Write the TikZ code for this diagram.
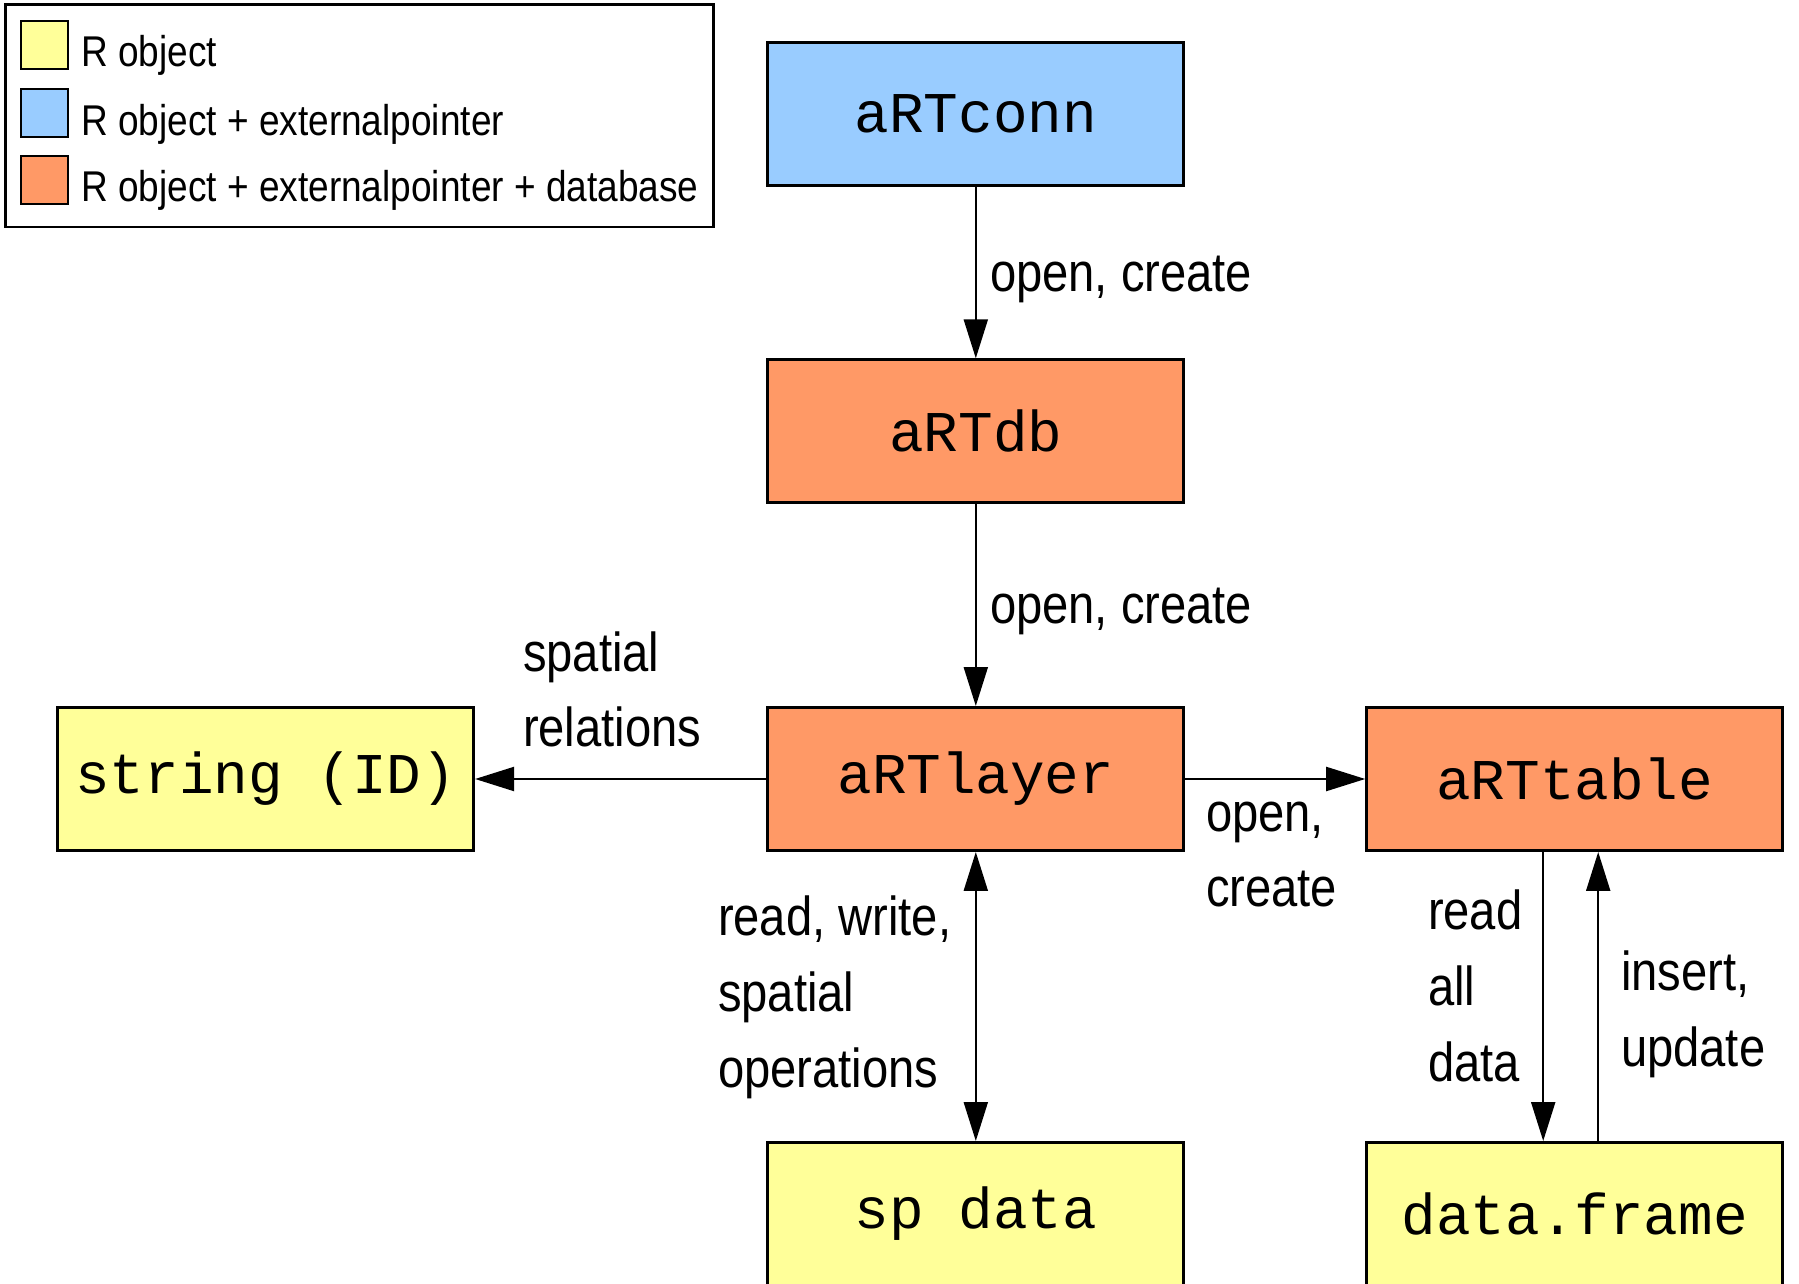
\documentclass[tikz,border=0pt]{standalone}
\usepackage{fontspec}
\newfontfamily\lblfont{Liberation Sans}[FakeStretch=0.86]
\newfontfamily\boxfont{Liberation Mono}
\usetikzlibrary{arrows.meta}

\definecolor{robj}{HTML}{FFFF99}
\definecolor{rptr}{HTML}{99CCFF}
\definecolor{rdb}{HTML}{FF9966}

\tikzset{
  cls/.style = {draw, line width=0.85pt, minimum width=41.6mm, minimum height=14.3mm,
                inner sep=0pt, font=\boxfont\fontsize{16.4}{18}\selectfont},
  lbl/.style = {anchor=base west, align=left, inner sep=0pt,
                font=\lblfont\fontsize{15.6}{21.6}\selectfont},
  key/.style = {draw, line width=0.7pt, minimum width=4.7mm, minimum height=4.8mm, inner sep=0pt},
  keytext/.style = {anchor=base west, inner sep=0pt, font=\lblfont\fontsize{12.25}{14}\selectfont}
}

\begin{document}
\begin{tikzpicture}[x=0.1mm, y=-0.1mm, line width=0.6pt, >={Triangle[length=3.9mm,width=2.4mm]}]
\useasboundingbox (0,0) rectangle (1799,1284);
% legend
\draw[line width=0.85pt] (5.7,4.6) rectangle (713.6,227);
\node[key, fill=robj] (keyobj) at (44.5,45) {};
\node[key, fill=rptr] (keyptr) at (44.5,113) {};
\node[key, fill=rdb] (keydb) at (44.5,180) {};
\node[keytext] (txtobj) at (80,67) {R object};
\node[keytext] (txtptr) at (80,136) {R object + externalpointer};
\node[keytext] (txtdb) at (80,202) {R object + externalpointer + database};
% classes
\node[cls, fill=rptr] (aRTconn) at (975.8,113.6) {aRTconn};
\node[cls, fill=rdb] (aRTdb) at (975.8,431.3) {aRTdb};
\node[cls, fill=rdb] (aRTlayer) at (975.8,779) {aRTlayer};
\node[cls, fill=robj] (stringid) at (265.6,779) {string (ID)};
\node[cls, fill=rdb] (aRTtable) at (1574.7,779) {aRTtable};
\node[cls, fill=robj] (spdata) at (975.8,1214) {sp data};
\node[cls, fill=robj] (dataframe) at (1574.7,1214) {data.frame};
% connectors
\draw[->] (aRTconn) -- (aRTdb);
\draw[->] (aRTdb) -- (aRTlayer);
\draw[->] (aRTlayer) -- (stringid);
\draw[->] (aRTlayer) -- (aRTtable);
\draw[<->] (aRTlayer) -- (spdata);
\draw[->] ([xshift=-3.15mm]aRTtable.south) -- ([xshift=-3.15mm]dataframe.north);
\draw[<-] ([xshift=2.35mm]aRTtable.south) -- ([xshift=2.35mm]dataframe.north);
% labels (base = last line)
\node[lbl] (lblconn) at (989,292) {open, create};
\node[lbl] (lbldb) at (989,624) {open, create};
\node[lbl] (lblrel) at (522,747) {spatial\\relations};
\node[lbl] (lbltable) at (1205,907) {open,\\create};
\node[lbl] (lblsp) at (717,1087) {read, write,\\spatial\\operations};
\node[lbl] (lblread) at (1427,1081) {read\\all\\data};
\node[lbl] (lblins) at (1620,1066) {insert,\\update};
\end{tikzpicture}
\end{document}
